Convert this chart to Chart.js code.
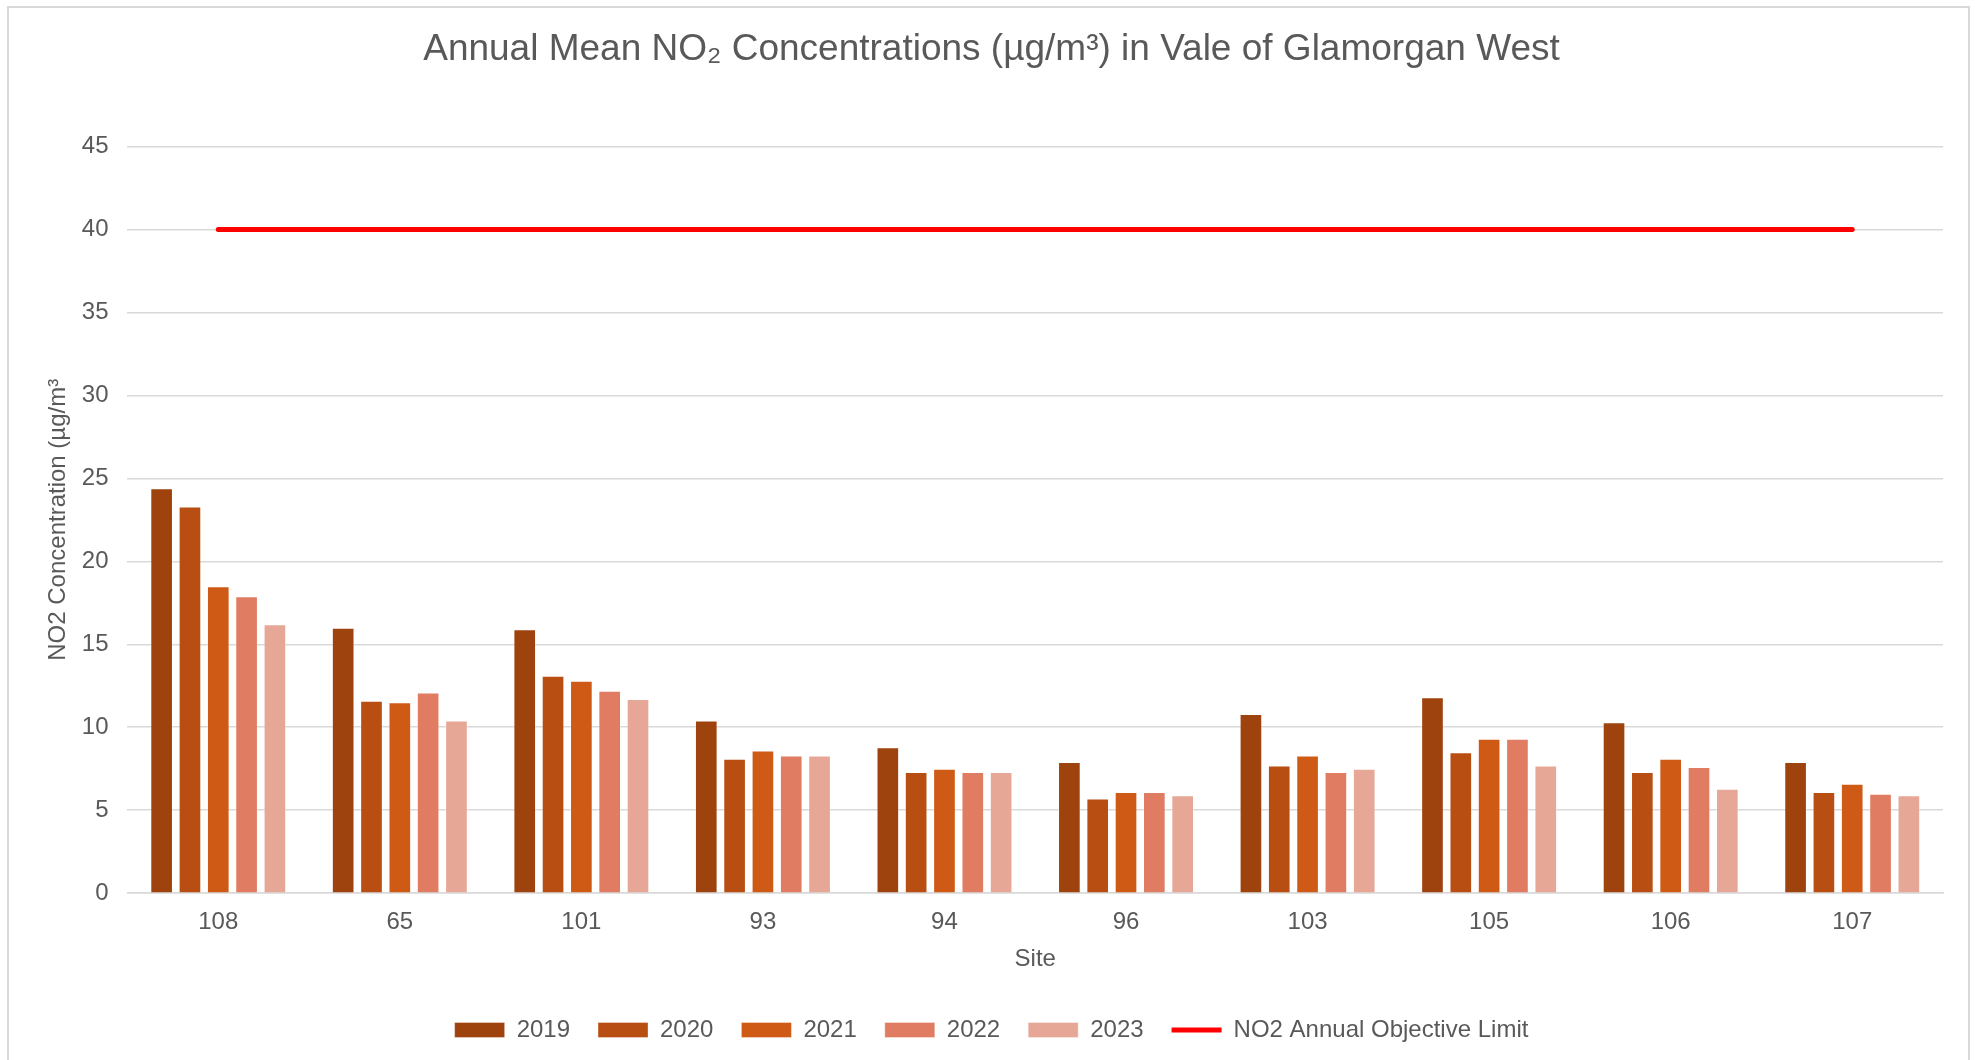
<!DOCTYPE html>
<html>
<head>
<meta charset="utf-8">
<script src="https://cdn.jsdelivr.net/npm/chart.js@4"></script>
<style>
  html, body { margin: 0; padding: 0; background: #fff; }
  #frame {
    position: absolute; left: 7px; top: 6px; width: 1963px; height: 1070px;
    border: 2px solid #D9D9D9; box-sizing: border-box;
  }
  #wrap { position: absolute; left: 0; top: 0; width: 1975px; height: 1060px; }
</style>
</head>
<body>
<div id="frame"></div>
<div id="wrap"><canvas id="no2Chart" width="1975" height="1060"></canvas></div>
<script>
var sites = ['108', '65', '101', '93', '94', '96', '103', '105', '106', '107'];
var years = ['2019', '2020', '2021', '2022', '2023'];
var values2019 = [24.4, 16.0, 15.9, 10.4, 8.8, 7.9, 10.8, 11.8, 10.3, 7.9];
var values2020 = [23.3, 11.6, 13.1, 8.1, 7.3, 5.7, 7.7, 8.5, 7.3, 6.1];
var values2021 = [18.5, 11.5, 12.8, 8.6, 7.5, 6.1, 8.3, 9.3, 8.1, 6.6];
var values2022 = [17.9, 12.1, 12.2, 8.3, 7.3, 6.1, 7.3, 9.3, 7.6, 6.0];
var values2023 = [16.2, 10.4, 11.7, 8.3, 7.3, 5.9, 7.5, 7.7, 6.3, 5.9];
var objectiveLimit = [40, 40, 40, 40, 40, 40, 40, 40, 40, 40];
var yTicks = [0, 5, 10, 15, 20, 25, 30, 35, 40, 45];

var barColours = ['#9E420E', '#B84E12', '#CF5A15', '#DF7C61', '#E7A796'];
var yearValues = [values2019, values2020, values2021, values2022, values2023];
var textColour = '#595959';
var fontFamily = "'Liberation Sans', Arial, sans-serif";

Chart.defaults.font.family = fontFamily;
Chart.defaults.color = textColour;

var datasets = years.map(function (year, i) {
  return {
    type: 'bar',
    label: year,
    data: yearValues[i],
    backgroundColor: barColours[i],
    borderColor: 'rgba(255,255,255,0.35)',
    borderWidth: 1,
    pointStyle: 'rect',
    categoryPercentage: 0.78,
    barPercentage: 0.8
  };
});

datasets.push({
  type: 'line',
  label: 'NO2 Annual Objective Limit',
  data: objectiveLimit,
  borderColor: '#FF0000',
  backgroundColor: '#FF0000',
  borderWidth: 5,
  borderCapStyle: 'round',
  pointRadius: 0,
  pointHoverRadius: 0,
  pointStyle: 'line'
});

var ctx = document.getElementById('no2Chart');
var no2Chart = new Chart(ctx, {
  data: {
    labels: sites,
    datasets: datasets
  },
  options: {
    responsive: false,
    animation: false,
    layout: {
      padding: { left: 40, right: 32, top: 0, bottom: 8 }
    },
    plugins: {
      title: {
        display: true,
        text: 'Annual Mean NO\u2082 Concentrations (\u00B5g/m\u00B3) in Vale of Glamorgan West',
        color: textColour,
        font: { size: 37, weight: 'normal' },
        padding: { top: 28, bottom: 74 }
      },
      legend: {
        position: 'bottom',
        labels: {
          usePointStyle: true,
          pointStyleWidth: 50,
          boxHeight: 15,
          padding: 28,
          color: textColour,
          font: { size: 24 }
        }
      },
      tooltip: { enabled: false }
    },
    scales: {
      x: {
        grid: { display: false, drawTicks: false },
        border: { display: true, color: '#D9D9D9', width: 1.5 },
        ticks: { color: textColour, font: { size: 24, lineHeight: 1 }, padding: 17 },
        title: {
          display: true,
          text: 'Site',
          color: textColour,
          font: { size: 24 },
          padding: { top: -6, bottom: 16 }
        }
      },
      y: {
        min: 0,
        max: 45,
        afterBuildTicks: function (axis) {
          axis.ticks = yTicks.map(function (v) { return { value: v }; });
        },
        grid: { color: '#D9D9D9', lineWidth: 1.5, drawTicks: false },
        border: { display: false },
        ticks: { color: textColour, font: { size: 24 }, padding: 19 },
        title: {
          display: true,
          text: 'NO2 Concentration (\u00B5g/m\u00B3',
          color: textColour,
          font: { size: 24 },
          padding: { top: 4, bottom: -10 }
        }
      }
    }
  }
});
</script>
</body>
</html>
